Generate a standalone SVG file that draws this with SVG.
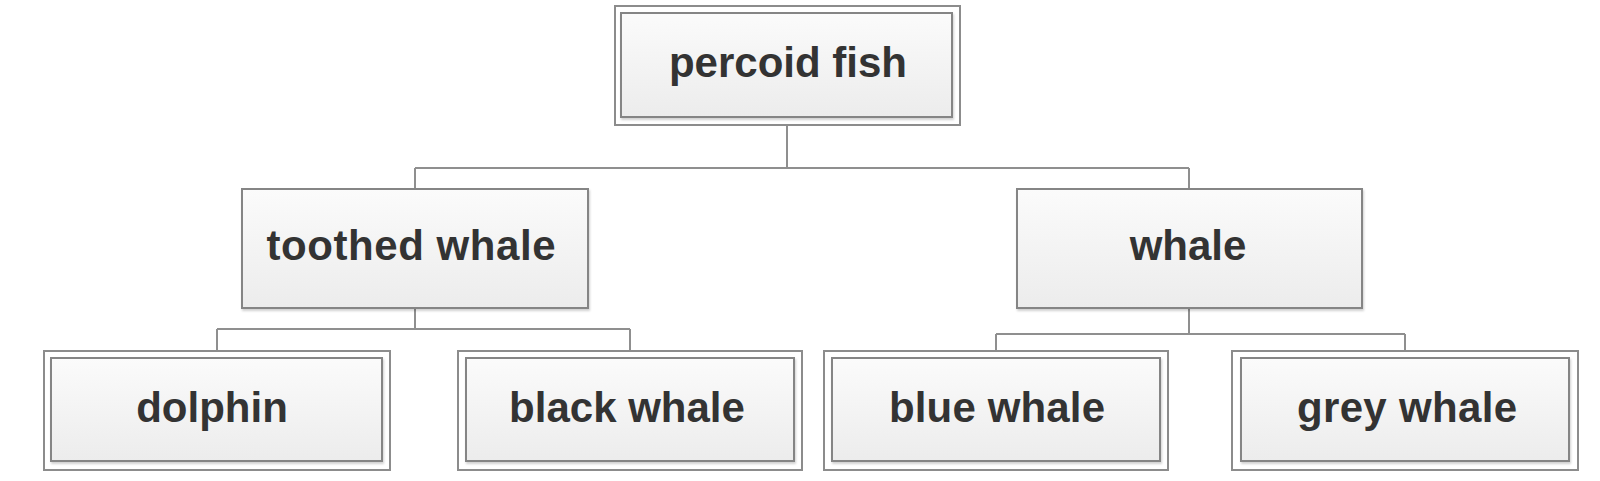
<svg xmlns="http://www.w3.org/2000/svg" width="1600" height="481" viewBox="0 0 1600 481">
  <defs>
    <linearGradient id="g" x1="0" y1="0" x2="0" y2="1">
      <stop offset="0" stop-color="#fbfbfb"/>
      <stop offset="1" stop-color="#ececec"/>
    </linearGradient>
    <filter id="sh" x="-5%" y="-5%" width="110%" height="115%">
      <feDropShadow dx="1" dy="2" stdDeviation="1.2" flood-color="#000" flood-opacity="0.18"/>
    </filter>
  </defs>
  <style>
    .outer { fill: #ffffff; stroke: #8c8c8c; stroke-width: 2; }
    .box { fill: url(#g); stroke: #858585; stroke-width: 2; filter: url(#sh); }
    .lbl { font-family: "Liberation Sans", Arial, sans-serif; font-weight: bold; font-size: 42px; fill: #333333; text-anchor: middle; }
    .conn { fill: none; stroke: #8f8f8f; stroke-width: 2; }
  </style>
  <rect width="1600" height="481" fill="#ffffff"/>
  <g id="connectors">
    <path class="conn" d="M787,125 V168 M415,168 H1189 M415,168 V189 M1189,168 V189"/>
    <path class="conn" d="M415,308 V329 M217,329 H630 M217,329 V351 M630,329 V351"/>
    <path class="conn" d="M1189,308 V334 M996,334 H1405 M996,334 V351 M1405,334 V351"/>
  </g>
  <g id="percoid-fish">
    <rect class="outer" x="615" y="6" width="345" height="119"/>
    <rect class="box" x="621" y="13" width="331" height="104"/>
    <text class="lbl" x="788" y="77">percoid fish</text>
  </g>
  <g id="toothed-whale">
    <rect class="box" x="242" y="189" width="346" height="119"/>
    <text class="lbl" x="411" y="260" textLength="289" lengthAdjust="spacing">toothed whale</text>
  </g>
  <g id="whale">
    <rect class="box" x="1017" y="189" width="345" height="119"/>
    <text class="lbl" x="1188" y="260">whale</text>
  </g>
  <g id="dolphin">
    <rect class="outer" x="44" y="351" width="346" height="119"/>
    <rect class="box" x="51" y="358" width="331" height="103"/>
    <text class="lbl" x="212" y="422">dolphin</text>
  </g>
  <g id="black-whale">
    <rect class="outer" x="458" y="351" width="344" height="119"/>
    <rect class="box" x="466" y="358" width="328" height="103"/>
    <text class="lbl" x="627" y="422">black whale</text>
  </g>
  <g id="blue-whale">
    <rect class="outer" x="824" y="351" width="344" height="119"/>
    <rect class="box" x="832" y="358" width="328" height="103"/>
    <text class="lbl" x="997" y="422" textLength="216" lengthAdjust="spacing">blue whale</text>
  </g>
  <g id="grey-whale">
    <rect class="outer" x="1232" y="351" width="346" height="119"/>
    <rect class="box" x="1241" y="358" width="328" height="103"/>
    <text class="lbl" x="1407" y="422" textLength="220" lengthAdjust="spacing">grey whale</text>
  </g>
</svg>
